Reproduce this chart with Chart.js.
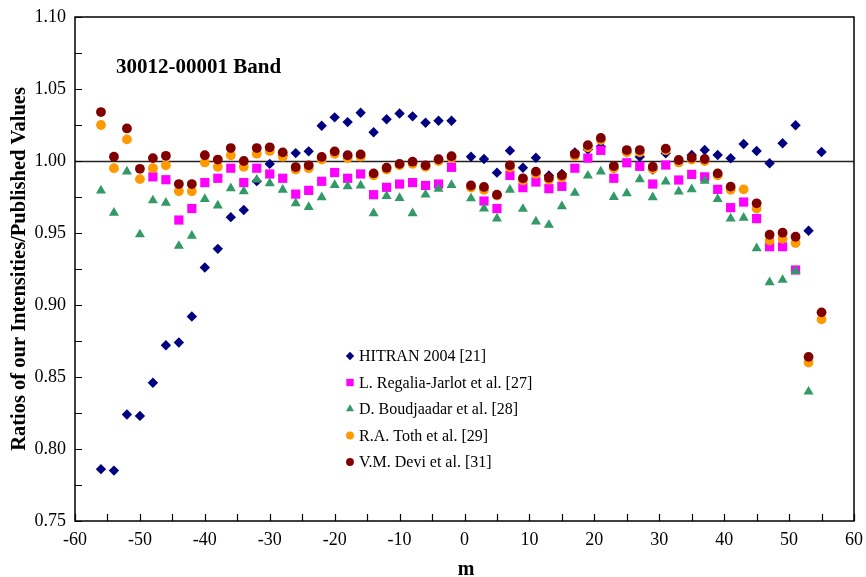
<!DOCTYPE html>
<html lang="en">
<head>
  <meta charset="UTF-8" />
  <title>30012-00001 Band</title>
  <script src="https://cdn.jsdelivr.net/npm/chart.js"></script>
  <style>
    body { margin: 0; background: #fff; }
    #wrap { width: 866px; height: 577px; }
  </style>
</head>
<body>
<div id="wrap"><canvas id="grafico"></canvas></div>
<script>
  // line index m (P branch even negative, R branch odd positive)
  const mValues = [-56, -54, -52, -50, -48, -46, -44, -42, -40, -38, -36, -34, -32, -30, -28, -26, -24, -22, -20, -18, -16, -14, -12, -10, -8, -6, -4, -2,
    1, 3, 5, 7, 9, 11, 13, 15, 17, 19, 21, 23, 25, 27, 29, 31, 33, 35, 37, 39, 41, 43, 45, 47, 49, 51, 53, 55];

  const hitran = [0.786, 0.785, 0.824, 0.823, 0.846, 0.872, 0.874, 0.892, 0.926, 0.939, 0.961, 0.966, 0.986, 0.998, 1.004, 1.0055, 1.0067, 1.0245, 1.0303, 1.027, 1.0335, 1.020, 1.029, 1.033, 1.031, 1.0266, 1.028, 1.028,
    1.003, 1.0014, 0.9919, 1.0072, 0.9953, 1.0023, 0.990, 0.991, 1.006, 1.008, 1.010, 0.995, 1.006, 1.003, 0.994, 1.0053, 1.000, 1.0042, 1.0076, 1.0042, 1.0019, 1.0118, 1.0069, 0.9984, 1.0123, 1.0248, 0.9516, 1.0063];

  const regalia = [null, null, null, null, 0.989, 0.987, 0.959, 0.967, 0.985, 0.988, 0.995, 0.985, 0.995, 0.991, 0.988, 0.977, 0.9796, 0.9859, 0.992, 0.988, 0.991, 0.9766, 0.9817, 0.984, 0.985, 0.983, 0.984, 0.9956,
    null, 0.9722, 0.967, 0.990, 0.9815, 0.9854, 0.9808, 0.9824, 0.995, 1.002, 1.0074, 0.988, 0.9988, 0.9963, 0.984, 0.9972, 0.9868, 0.9907, 0.989, 0.9803, 0.9676, 0.9715, 0.960, 0.9405, 0.9405, 0.9243, null, null];

  const boudjaadar = [0.9795, 0.964, 0.9926, 0.949, 0.9726, 0.971, 0.941, 0.948, 0.9736, 0.969, 0.981, 0.979, 0.987, 0.9845, 0.980, 0.9706, 0.968, 0.9748, 0.9833, 0.9824, 0.983, 0.9637, 0.9757, 0.9743, 0.9637, 0.9766, 0.9806, 0.9833,
    0.974, 0.967, 0.960, 0.980, 0.9667, 0.958, 0.9556, 0.9685, 0.9778, 0.9898, 0.9926, 0.975, 0.9776, 0.9873, 0.9748, 0.9857, 0.9787, 0.9803, 0.9863, 0.9736, 0.960, 0.9606, 0.9394, 0.9158, 0.9174, 0.9236, 0.8398, null];

  const toth = [1.025, 0.995, 1.015, 0.9874, 0.995, 0.997, 0.979, 0.979, 0.999, 0.996, 1.004, 0.996, 1.005, 1.007, 1.003, 0.994, 0.995, 1.001, 1.005, 1.002, 1.003, 0.990, 0.994, 0.997, 0.998, 0.996, 1.000, 1.002,
    0.9815, 0.980, 0.976, 0.9955, 0.9865, 0.991, 0.987, 0.9885, 1.0035, 1.0095, 1.0145, 0.995, 1.006, 1.006, 0.9945, 1.0075, 0.999, 1.001, 1.000, 0.990, 0.980, 0.9803, 0.967, 0.9447, 0.946, 0.943, 0.860, 0.890];

  const devi = [1.034, 1.003, 1.0226, 0.9946, 1.002, 1.0036, 0.984, 0.984, 1.004, 1.001, 1.009, 1.000, 1.009, 1.0095, 1.006, 0.9958, 0.997, 1.0028, 1.0067, 1.004, 1.0046, 0.9914, 0.9953, 0.998, 0.9995, 0.997, 1.0012, 1.0033,
    0.983, 0.982, 0.9766, 0.997, 0.988, 0.9926, 0.9884, 0.990, 1.0049, 1.011, 1.016, 0.9965, 1.0076, 1.0076, 0.996, 1.0086, 1.0007, 1.0023, 1.0014, 0.9914, 0.9822, null, 0.9706, 0.9488, 0.9502, 0.9474, 0.864, 0.8949];

  const seriesLabels = ["HITRAN 2004 [21]", "L. Regalia-Jarlot et al. [27]", "D. Boudjaadar et al. [28]", "R.A. Toth et al. [29]", "V.M. Devi et al. [31]"];

  const serif = '"Liberation Serif", "Times New Roman", serif';

  function puntos(valores) {
    return mValues.map((m, i) => ({ x: m, y: valores[i] })).filter(p => p.y !== null);
  }

  const estilos = [
    { color: "#000080", forma: "rectRot", r: 5.2 },
    { color: "#FF00FF", forma: "rect", r: 6.5 },
    { color: "#339966", forma: "triangle", r: 5.8 },
    { color: "#FF9900", forma: "circle", r: 4.9 },
    { color: "#800000", forma: "circle", r: 4.9 }
  ];
  const valores = [hitran, regalia, boudjaadar, toth, devi];

  // lower order is drawn on top, Devi last on top
  const datasets = valores.map((v, i) => ({
    label: seriesLabels[i],
    data: puntos(v),
    order: 5 - i,
    pointStyle: estilos[i].forma,
    pointRadius: estilos[i].r,
    pointHoverRadius: estilos[i].r,
    backgroundColor: estilos[i].color,
    borderColor: estilos[i].color,
    borderWidth: 0,
    showLine: false
  }));

  function marcador(ctx, forma, x, y, r) {
    ctx.beginPath();
    if (forma === "circle") {
      ctx.arc(x, y, r, 0, Math.PI * 2);
    } else if (forma === "rect") {
      const s = r * Math.SQRT1_2;
      ctx.rect(x - s, y - s, 2 * s, 2 * s);
    } else if (forma === "rectRot") {
      ctx.moveTo(x - r, y); ctx.lineTo(x, y - r); ctx.lineTo(x + r, y); ctx.lineTo(x, y + r);
      ctx.closePath();
    } else {
      ctx.moveTo(x, y - r);
      ctx.lineTo(x + r * 0.866, y + r / 2);
      ctx.lineTo(x - r * 0.866, y + r / 2);
      ctx.closePath();
    }
    ctx.fill();
  }

  const marco = {
    id: "marco",
    beforeDatasetsDraw(chart) {
      const { ctx, chartArea: a, scales: { y } } = chart;
      const y1 = Math.round(y.getPixelForValue(1.0)) + 0.5;
      ctx.save();
      ctx.strokeStyle = "#222";
      ctx.lineWidth = 1.3;
      ctx.beginPath();
      ctx.moveTo(a.left, y1);
      ctx.lineTo(a.right, y1);
      ctx.stroke();
      ctx.restore();
    },
    afterDraw(chart) {
      const { ctx, chartArea: a, scales: { x, y } } = chart;
      ctx.save();
      ctx.strokeStyle = "#000";
      ctx.lineWidth = 1.5;
      ctx.strokeRect(a.left, a.top, a.right - a.left, a.bottom - a.top);

      // inward tick marks
      ctx.lineWidth = 1.2;
      ctx.beginPath();
      y.ticks.forEach(t => {
        const py = Math.round(y.getPixelForValue(t.value)) + 0.5;
        ctx.moveTo(a.left, py); ctx.lineTo(a.left + 7, py);
      });
      x.ticks.forEach(t => {
        const px = Math.round(x.getPixelForValue(t.value)) + 0.5;
        ctx.moveTo(px, a.bottom); ctx.lineTo(px, a.bottom - 7);
      });
      ctx.stroke();

      // titles
      ctx.fillStyle = "#000";
      ctx.font = "bold 21px " + serif;
      ctx.textAlign = "left";
      ctx.textBaseline = "alphabetic";
      ctx.fillText("30012-00001 Band", 116, 73);

      ctx.font = "bold 20px " + serif;
      ctx.textAlign = "center";
      ctx.fillText("m", 466, 575);

      ctx.save();
      ctx.translate(25, 269);
      ctx.rotate(-Math.PI / 2);
      ctx.font = "bold 20.5px " + serif;
      ctx.fillText("Ratios of our Intensities/Published Values", 0, 0);
      ctx.restore();

      // legend inside plot
      const filas = [356, 382.5, 409, 435.5, 462];
      ctx.font = "16px " + serif;
      ctx.textAlign = "left";
      ctx.textBaseline = "middle";
      seriesLabels.forEach((txt, i) => {
        ctx.fillStyle = estilos[i].color;
        marcador(ctx, estilos[i].forma, 350, filas[i], estilos[i].r * 0.8);
        ctx.fillStyle = "#000";
        ctx.fillText(txt, 359, filas[i] + 1);
      });
      ctx.restore();
    }
  };

  new Chart(document.getElementById("grafico"), {
    type: "scatter",
    data: { datasets },
    options: {
      responsive: true,
      maintainAspectRatio: false,
      animation: false,
      layout: { padding: { top: 17, right: 12, left: 0, bottom: 0 } },
      plugins: {
        legend: { display: false },
        tooltip: { enabled: true }
      },
      scales: {
        x: {
          type: "linear",
          min: -60,
          max: 60,
          grid: { display: false },
          border: { display: false },
          ticks: {
            stepSize: 5,
            autoSkip: false,
            maxRotation: 0,
            padding: 0,
            color: "#000",
            font: { family: serif, size: 18 },
            callback: v => (Math.round(v) % 10 === 0 ? String(Math.round(v)) : "")
          },
          afterFit(scale) { scale.height = 56; }
        },
        y: {
          min: 0.75,
          max: 1.10,
          grid: { display: false },
          border: { display: false },
          ticks: {
            stepSize: 0.025,
            autoSkip: false,
            padding: 1,
            color: "#000",
            font: { family: serif, size: 18 },
            callback: v => (Math.round(v * 1000) % 50 === 0 ? v.toFixed(2) : "")
          },
          afterFit(scale) { scale.width = 75; }
        }
      }
    },
    plugins: [marco]
  });
</script>
</body>
</html>
